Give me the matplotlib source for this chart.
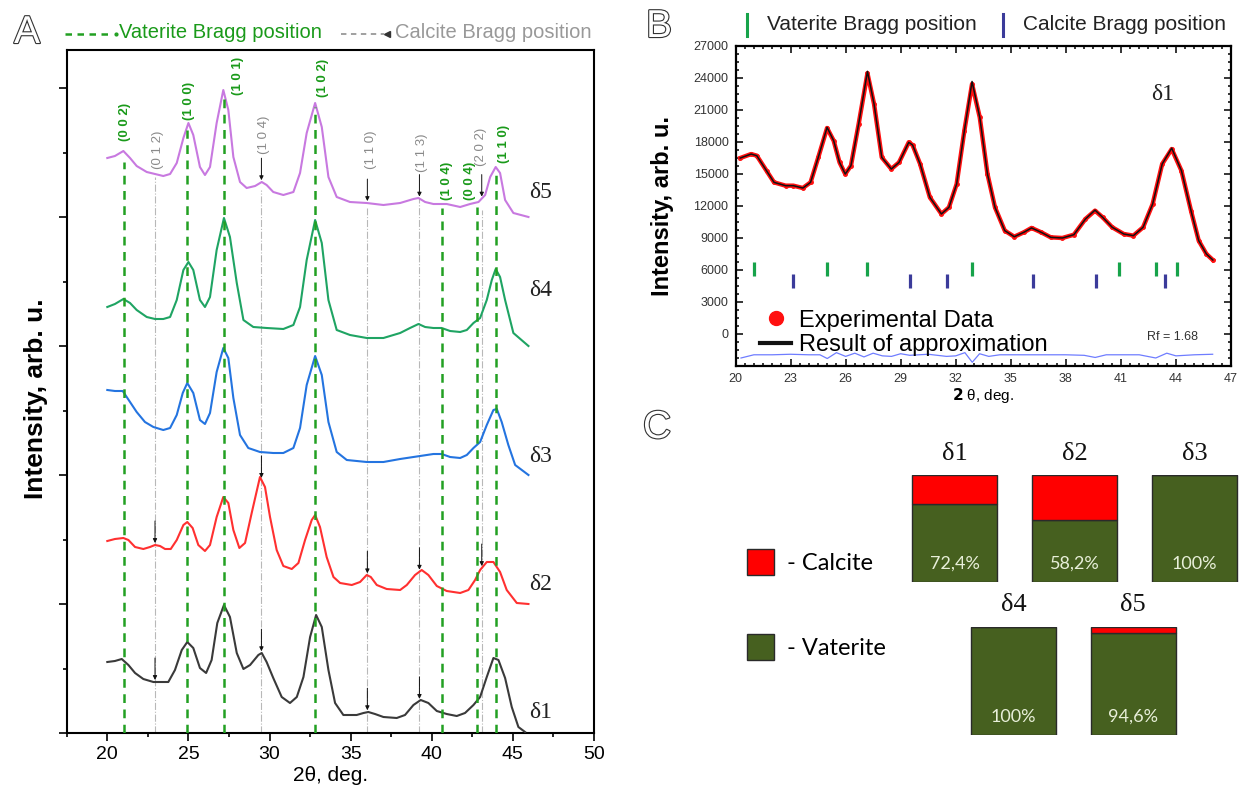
import matplotlib
matplotlib.use('Agg')
import numpy as np
import matplotlib.pyplot as plt
import matplotlib.ticker as ticker
import matplotlib.patheffects as pe
from matplotlib.lines import Line2D
from matplotlib.patches import Patch

plt.rcParams['font.family'] = ['Liberation Sans', 'DejaVu Sans']

# ---------------- panel A: XRD patterns (offset, arb. units) ----------------
tt_d5 = [20.00, 20.47, 20.99, 21.40, 21.81, 22.43, 22.94, 23.45, 23.87, 24.28, 24.69, 25.00, 25.30,
         25.71, 26.02, 26.33, 26.74, 27.15, 27.46, 27.77, 28.18, 28.59, 29.11, 29.52, 29.82, 30.23,
         30.85, 31.47, 31.88, 32.29, 32.81, 33.22, 33.63, 34.14, 34.96, 35.99, 37.02, 38.05, 38.87,
         39.18, 39.59, 40.10, 40.92, 41.75, 42.36, 42.88, 43.29, 43.60, 43.94, 44.21, 44.52, 45.03, 45.96]
int_d5 = [575, 577, 582, 575, 567, 561, 559, 557, 559, 570, 595, 610, 598, 566, 558, 566, 610, 643,
          623, 576, 551, 545, 547, 551, 548, 541, 538, 541, 560, 600, 630, 606, 556, 536, 531, 530,
          528, 530, 534, 535, 531, 529, 529, 526, 529, 531, 538, 556, 566, 560, 533, 520, 516]

tt_d4 = [20.00, 20.47, 20.99, 21.40, 21.81, 22.43, 22.94, 23.45, 23.87, 24.28, 24.69, 25.00, 25.30,
         25.71, 26.02, 26.33, 26.74, 27.19, 27.56, 27.98, 28.39, 29.00, 29.83, 30.85, 31.47, 31.88,
         32.29, 32.81, 33.22, 33.63, 34.14, 34.96, 35.99, 37.02, 38.05, 38.66, 39.18, 39.59, 40.10,
         40.61, 41.13, 41.75, 42.16, 42.57, 42.98, 43.39, 43.70, 43.94, 44.21, 44.52, 45.03, 45.96]
int_d4 = [426, 429, 434, 430, 423, 416, 414, 414, 416, 433, 463, 471, 463, 433, 426, 436, 483, 515,
          496, 450, 413, 406, 405, 404, 408, 426, 473, 513, 490, 433, 403, 398, 395, 395, 400, 405,
          409, 406, 405, 405, 402, 401, 403, 410, 415, 433, 453, 464, 456, 433, 400, 387]

tt_d3 = [20.00, 20.47, 20.95, 21.40, 21.81, 22.32, 22.84, 23.45, 23.87, 24.28, 24.65, 24.93, 25.30,
         25.71, 26.02, 26.33, 26.74, 27.15, 27.46, 27.77, 28.18, 28.69, 29.41, 30.23, 30.85, 31.47,
         31.88, 32.29, 32.81, 33.22, 33.63, 34.14, 34.76, 35.99, 37.02, 38.05, 39.28, 40.10, 40.61,
         41.13, 41.75, 42.16, 42.57, 42.98, 43.39, 43.80, 44.01, 44.31, 44.72, 45.14, 45.96]
int_d3 = [343, 342, 342, 331, 321, 311, 306, 303, 305, 318, 340, 350, 340, 313, 309, 320, 361, 385,
          375, 335, 298, 285, 281, 280, 280, 285, 305, 348, 377, 358, 311, 281, 273, 271, 271, 274,
          277, 279, 279, 276, 275, 278, 285, 291, 308, 323, 324, 311, 288, 268, 258]

tt_d2 = [20.00, 20.47, 20.99, 21.30, 21.71, 22.22, 22.63, 22.94, 23.25, 23.56, 23.91, 24.28, 24.69,
         24.93, 25.26, 25.61, 26.02, 26.33, 26.74, 27.15, 27.46, 27.77, 28.14, 28.49, 28.90, 29.41,
         29.72, 30.03, 30.44, 30.85, 31.37, 31.78, 32.19, 32.60, 32.81, 33.11, 33.52, 33.94, 34.35,
         35.07, 35.58, 35.99, 36.24, 36.61, 37.22, 38.05, 38.46, 38.97, 39.38, 39.79, 40.31, 40.92,
         41.75, 42.26, 42.67, 42.98, 43.39, 43.80, 44.21, 44.62, 45.24, 45.96]
int_d2 = [192, 194, 195, 193, 186, 184, 186, 188, 187, 184, 184, 193, 208, 211, 205, 188, 182, 188,
          216, 236, 230, 203, 185, 190, 220, 256, 246, 216, 183, 167, 164, 170, 193, 213, 218, 206,
          176, 156, 150, 148, 151, 158, 156, 148, 144, 143, 148, 158, 163, 158, 147, 142, 140, 143,
          153, 163, 171, 171, 161, 143, 130, 129]

tt_d1 = [20.00, 20.47, 20.89, 21.30, 21.71, 22.22, 22.84, 23.45, 23.76, 24.17, 24.59, 24.93, 25.30,
         25.71, 26.09, 26.43, 26.78, 27.19, 27.56, 27.98, 28.39, 28.80, 29.31, 29.52, 29.82, 30.23,
         30.75, 31.26, 31.68, 32.09, 32.50, 32.87, 33.22, 33.63, 34.04, 34.55, 35.37, 35.79, 36.09,
         36.50, 37.02, 37.84, 38.35, 38.87, 39.32, 39.79, 40.31, 40.92, 41.54, 42.05, 42.57, 42.98,
         43.39, 43.80, 44.11, 44.52, 44.93, 45.34, 45.75]
int_d1 = [71, 72, 74, 68, 60, 54, 51, 51, 51, 63, 83, 91, 85, 65, 60, 73, 110, 128, 116, 80, 64, 68,
          78, 80, 71, 55, 36, 30, 36, 56, 96, 118, 106, 63, 30, 18, 18, 20, 21, 19, 16, 15, 18, 28,
          33, 30, 22, 19, 17, 20, 28, 36, 56, 75, 73, 55, 26, 6, 1]

vat_pos = [21.00, 24.93, 27.19, 32.83, 40.62, 42.81, 43.94]
vat_hkl = ['(0 0 2)', '(1 0 0)', '(1 0 1)', '(1 0 2)', '(1 0 4)', '(0 0 4)', '(1 1 0)']
cal_pos = [22.94, 29.50, 36.03, 39.24, 43.08]
cal_hkl = ['(0 1 2)', '(1 0 4)', '(1 1 0)', '(1 1 3)', '(2 0 2)']

# ---------------- panel B: refinement of sample d1 ----------------
tt_b = [20.26, 20.85, 21.16, 21.69, 22.10, 22.73, 23.15, 23.67, 24.09, 24.51, 24.99, 25.35, 25.67,
        25.98, 26.29, 26.71, 27.19, 27.55, 27.97, 28.49, 28.91, 29.44, 29.65, 30.06, 30.59, 31.22,
        31.63, 32.05, 32.47, 32.89, 33.31, 33.73, 34.14, 34.67, 35.19, 35.71, 36.13, 36.66, 37.18,
        37.81, 38.44, 39.07, 39.59, 40.01, 40.53, 41.16, 41.68, 42.21, 42.73, 43.25, 43.77, 44.30,
        44.82, 45.24, 45.66, 46.01]
exp_b = [16480, 16850, 16700, 15290, 14200, 13890, 13890, 13670, 14200, 16540, 19290, 18100, 16070,
         14980, 15760, 19660, 24410, 21540, 16540, 15450, 16070, 17950, 17700, 15920, 12800, 11240,
         11860, 14040, 19040, 23410, 20290, 14980, 11860, 9680, 9110, 9520, 9930, 9520, 9050, 8990,
         9300, 10770, 11550, 10920, 9990, 9360, 9210, 9990, 12170, 15920, 17320, 15290, 11550, 8740,
         7490, 6930]
fit_b = [16480, 16850, 16700, 15290, 14200, 13890, 13890, 13670, 14200, 16540, 19350, 18100, 16070,
         14980, 15760, 19660, 24600, 21540, 16540, 15450, 16070, 17950, 17700, 15920, 12800, 11240,
         11860, 14040, 19040, 23650, 20290, 14980, 11860, 9680, 9110, 9520, 9930, 9520, 9050, 8990,
         9300, 10770, 11600, 10920, 9990, 9360, 9210, 9990, 12170, 15920, 17400, 15290, 11550, 8740,
         7490, 6930]
tt_diff = [20.3, 21.0, 22.0, 23.0, 24.0, 24.6, 25.0, 25.5, 26.0, 26.5, 27.0, 27.5, 28.0, 28.5, 29.0,
           29.5, 30.0, 30.5, 31.0, 31.5, 32.0, 32.5, 32.9, 33.3, 33.8, 34.4, 35.0, 36.0, 37.0, 38.0,
           39.0, 39.6, 40.2, 41.0, 42.0, 42.9, 43.5, 44.0, 45.0, 46.0]
diff_b = [-2250, -1950, -1950, -1900, -1950, -1950, -2300, -1750, -2100, -1800, -2150, -1800, -2050,
          -2100, -1850, -2000, -1950, -1900, -2000, -2100, -2050, -1750, -2650, -1850, -2100, -1950,
          -1950, -1950, -1950, -1950, -2000, -2200, -1950, -1950, -1950, -2250, -1800, -2050, -1950,
          -1900]
vat_b = [21.00, 24.97, 27.17, 32.91, 40.90, 42.89, 44.08]
cal_b = [23.15, 29.53, 31.52, 36.19, 39.65, 43.42]

# ---------------- panel C: phase composition ----------------
samples_c = ['δ1', 'δ2', 'δ3', 'δ4', 'δ5']
vaterite_c = [72.4, 58.2, 100.0, 100.0, 94.6]
pct_c = ['72,4%', '58,2%', '100%', '100%', '94,6%']

W, H = 1239, 787
fig = plt.figure(figsize=(W / 100, H / 100), dpi=100)


def fx(px):
    return px / W


def fy(py):
    return 1 - py / H


serif = ['Liberation Serif', 'DejaVu Serif']
outline = [pe.withStroke(linewidth=1.6, foreground='#333333')]

# ============================ panel A ============================
ax = fig.add_axes([fx(66.75), fy(733), (594 - 66.75) / W, 683 / H])
ax.set_xlim(17.5, 50)
ax.set_ylim(0, 683)

curves = [(tt_d5, int_d5, '#c879e0', 'δ5', 540), (tt_d4, int_d4, '#1fa463', 'δ4', 443),
          (tt_d3, int_d3, '#2474e0', 'δ3', 277), (tt_d2, int_d2, '#ff3030', 'δ2', 149),
          (tt_d1, int_d1, '#3a3a3a', 'δ1', 21)]
for xs, ys, col, lab, ly in curves:
    ax.plot(xs, ys, color=col, lw=1.5, zorder=3, solid_joinstyle='round')
    ax.text(46.0, ly, lab, fontsize=17, family=serif, color='#222222',
            ha='left', va='center')

vat_top = [571, 603, 638, 626, 525, 526, 558]
cal_top = [556, 543, 525, 535, 523]
for x, top in zip(vat_pos, vat_top):
    ax.plot([x, x], [0, top], color='#22a022', lw=1.8, ls=(0, (3.5, 2.6)), zorder=4)
for x, top in zip(cal_pos, cal_top):
    ax.plot([x, x], [0, top], color='#b8b8b8', lw=0.8, ls='-.', zorder=2)

# hkl labels
vat_lab_xy = [(21.1, 611), (25.04, 632), (28.06, 657), (33.32, 655), (40.91, 552), (42.33, 552),
              (44.46, 589)]
cal_lab_xy = [(23.12, 583), (29.66, 598), (36.26, 583), (39.39, 580), (43.04, 586)]
for (x, y), t in zip(vat_lab_xy, vat_hkl):
    ax.text(x, y, t, rotation=90, ha='center', va='center', fontsize=9.5,
            fontweight='bold', color='#1a9a1a')
for (x, y), t in zip(cal_lab_xy, cal_hkl):
    ax.text(x, y, t, rotation=90, ha='center', va='center', fontsize=9.5, color='#8a8a8a')

# calcite arrows on curves
arrow_sets = [(tt_d5, int_d5, cal_pos[1:]), (tt_d2, int_d2, cal_pos), (tt_d1, int_d1, cal_pos[:4])]
for xs, ys, poss in arrow_sets:
    for p in poss:
        yt = np.interp(p, xs, ys) + 2
        ax.annotate('', xy=(p, yt), xytext=(p, yt + 22),
                    arrowprops=dict(arrowstyle='-|>', color='#111111', lw=0.7,
                                    mutation_scale=6, shrinkA=0, shrinkB=0), zorder=5)

ax.xaxis.set_major_locator(ticker.MultipleLocator(5))
ax.xaxis.set_minor_locator(ticker.MultipleLocator(2.5))
ax.yaxis.set_major_locator(ticker.MultipleLocator(129))
ax.yaxis.set_minor_locator(ticker.MultipleLocator(64.5))
ax.tick_params(which='major', direction='out', length=6, width=1.2, labelsize=14)
ax.tick_params(which='minor', direction='out', length=3, width=1.2)
ax.tick_params(axis='y', labelleft=False)
for s in ax.spines.values():
    s.set_linewidth(1.5)
ax.set_xlabel('2θ, deg.', fontsize=15, labelpad=2)
ax.set_ylabel('Intensity, arb. u.', fontsize=19, fontweight='bold')
ax.yaxis.set_label_coords(-0.035, 0.49)

# panel A legend row
fig.add_artist(Line2D([fx(65), fx(112)], [fy(34), fy(34)], color='#22a022', lw=1.8,
                      ls=(0, (2.6, 2.2))))
fig.add_artist(Line2D([fx(116)], [fy(34)], color='#22a022', marker='o', ms=2))
fig.text(fx(119), fy(33), 'Vaterite Bragg position', fontsize=14.5, color='#1a9a1a',
         ha='left', va='center')
fig.add_artist(Line2D([fx(341), fx(384)], [fy(34), fy(34)], color='#999999', lw=1.3,
                      ls=(0, (3, 2.5))))
fig.add_artist(Line2D([fx(387)], [fy(34)], color='#333333', marker='<', ms=5))
fig.text(fx(395), fy(33), 'Calcite Bragg position', fontsize=14.5, color='#999999',
         ha='left', va='center')

# ============================ panel B ============================
bx = fig.add_axes([fx(735.5), fy(366), (1231 - 735.5) / W, (366 - 45.7) / H])
bx.set_xlim(20, 47)
bx.set_ylim(-3000, 27000)
bx.plot(tt_b, exp_b, color='#ff1010', lw=3.2, marker='o', ms=2.5, zorder=3,
        label='Experimental Data')
bx.plot(tt_b, fit_b, color='#111111', lw=1.1, zorder=4, label='Result of approximation')
bx.plot(tt_diff, diff_b, color='#6f7dff', lw=0.9, zorder=2)
bx.vlines(vat_b, 5450, 6700, color='#17a34a', lw=2.3, zorder=3)
bx.vlines(cal_b, 4300, 5600, color='#3b3b9a', lw=2.3, zorder=3)

h_exp = Line2D([], [], color='#ff1010', marker='o', ms=10, ls='none')
h_fit = Line2D([], [], color='#111111', lw=3)
bx.legend([h_exp, h_fit], ['Experimental Data', 'Result of approximation'], loc='lower left',
          bbox_to_anchor=(0.05, 0.03), frameon=False, fontsize=17, handlelength=1.3,
          handletextpad=0.35, labelspacing=0.12, borderpad=0, borderaxespad=0)
bx.text(42.4, -300, 'Rf = 1.68', fontsize=9, color='#333333', va='center')
bx.text(43.25, 22400, 'δ1', fontsize=17, family=serif, color='#222222', va='center',
        ha='center')

bx.xaxis.set_major_locator(ticker.FixedLocator(np.arange(20, 48, 3)))
bx.xaxis.set_minor_locator(ticker.MultipleLocator(0.5))
bx.yaxis.set_major_locator(ticker.FixedLocator(np.arange(0, 27001, 3000)))
bx.yaxis.set_minor_locator(ticker.MultipleLocator(750))
bx.tick_params(which='both', direction='in', top=True, right=True, width=1.1)
bx.tick_params(which='major', length=5, labelsize=9, labelcolor='#333333', pad=5)
bx.tick_params(which='minor', length=2.5)
for s in bx.spines.values():
    s.set_linewidth(1.6)
bx.set_xlabel(r'$\mathbf{2}$ θ, deg.', fontsize=11, labelpad=1)
bx.set_ylabel('Intensity, arb. u.', fontsize=17, fontweight='bold')
bx.yaxis.set_label_coords(-0.125, 0.5)

# panel B legend row
fig.add_artist(Line2D([fx(746.5), fx(746.5)], [fy(14), fy(36)], color='#17a34a', lw=2.2))
fig.text(fx(767), fy(25), 'Vaterite Bragg position', fontsize=15, color='#222222',
         ha='left', va='center')
fig.add_artist(Line2D([fx(1003), fx(1003)], [fy(14), fy(36)], color='#3b3b9a', lw=2.2))
fig.text(fx(1023), fy(25), 'Calcite Bragg position', fontsize=15, color='#222222',
         ha='left', va='center')

# ============================ panel C ============================
green_c = '#46601f'
red_c = '#ff0000'
calcite_c = [100 - v for v in vaterite_c]
rows = [([0, 1, 2], slice(0, 3), fy(581.7), 106.7 / H),
        ([0.49, 1.49], slice(3, 5), fy(735), 108.3 / H)]
for pos, sl, bottom, hgt in rows:
    cx = fig.add_axes([fx(894.4), bottom, (W - 894.4) / W, hgt])
    cx.set_xlim(-0.503, 2.372)
    cx.set_ylim(0, 100)
    cx.axis('off')
    vv = vaterite_c[sl]
    cc = calcite_c[sl]
    cx.bar(pos, vv, width=0.71, color=green_c, edgecolor='#2a2a2a', lw=1.0)
    cx.bar(pos, cc, bottom=vv, width=0.71, color=red_c, edgecolor='#2a2a2a', lw=1.0)
    for p, s, t in zip(pos, samples_c[sl], pct_c[sl]):
        cx.text(p, 120, s, ha='center', va='center', fontsize=19, family=serif,
                color='#111111')
        cx.text(p, 17, t, ha='center', va='center', fontsize=13, family=['Lato', 'DejaVu Sans'],
                color='#e8efd9')

fig.legend([Patch(facecolor=red_c, edgecolor='#2a2a2a', lw=1.0),
            Patch(facecolor=green_c, edgecolor='#2a2a2a', lw=1.0)],
           ['- Calcite', '- Vaterite'], loc='upper left', bbox_to_anchor=(fx(747), fy(549)),
           frameon=False, prop={'family': ['Lato', 'DejaVu Sans'], 'size': 17},
           handlelength=1.15, handleheight=1.3, handletextpad=0.55, labelspacing=2.5,
           borderpad=0, borderaxespad=0)

# panel letters
for lx, ly, letter in [(27, 33, 'A'), (659, 27, 'B'), (657, 428, 'C')]:
    fig.text(fx(lx), fy(ly), letter, fontsize=28, color='white', ha='center', va='center',
             path_effects=outline)

fig.savefig('out.png', dpi=100)
